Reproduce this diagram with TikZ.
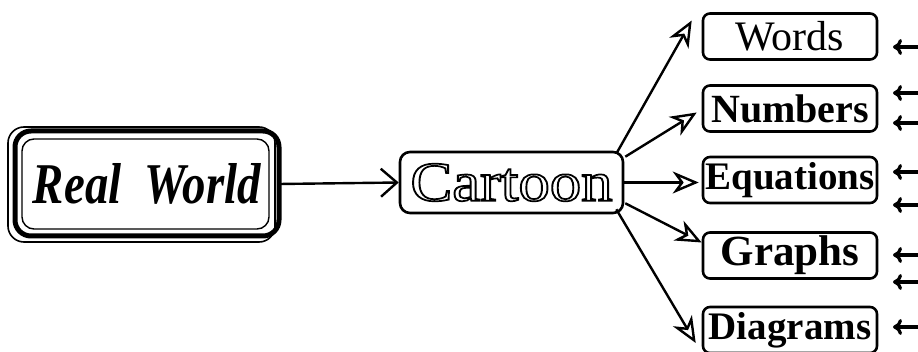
\documentclass[tikz,border=0pt]{standalone}
\usepackage{fontspec}
\setmainfont{Liberation Serif}
\usetikzlibrary{arrows.meta}
\newcommand{\hollow}[1]{\special{pdf:code q 1 Tr 1.7 w}#1\special{pdf:code Q}}

\tikzset{
  outbox/.style={draw, line width=2.6pt, rounded corners=7pt, minimum width=174pt,
    minimum height=46pt, inner sep=0pt},
  branch/.style={line width=2.4pt, -{Stealth[open, length=26pt, width=22pt, inset=8pt, line width=2.4pt]}},
  feed/.style={line width=3.2pt, -{Computer Modern Rightarrow[length=9pt, width=16pt, line width=3.2pt]}}
}

\begin{document}
\begin{tikzpicture}[x=1pt, y=-1pt]
  \useasboundingbox (0,0) rectangle (918,352);
  % real world frame
  \draw[line width=1.6pt, rounded corners=16pt] (8,127) rectangle (275,242);
  \draw[line width=5pt, rounded corners=16pt] (15,131) rectangle (279,236);
  \draw[line width=1.4pt, rounded corners=12pt] (22,139) rectangle (269,229);
  \node[inner sep=0pt, minimum width=264pt, minimum height=105pt] (real) at (147,184)
    {\resizebox{228pt}{40pt}{\bfseries\itshape Real\enspace World}};
  \node[draw, line width=2.6pt, rounded corners=10pt, minimum width=223pt, minimum height=61pt,
    inner sep=0pt] (cart) at (511.5,182.5)
    {\fontsize{56}{56}\selectfont\scalebox{1.12}[1]{\hollow{Cartoon}}};
  \draw[line width=2.4pt, -{Straight Barb[length=16pt, width=28pt, line width=2.4pt]}] (real.east) -- (cart.west);
  % output boxes
  \foreach \n/\t/\y in {words/{\fontsize{42}{42}\selectfont Words}/36.5,
                        num/{\fontsize{40}{40}\selectfont\bfseries Numbers}/108.5,
                        eq/{\fontsize{39}{39}\selectfont\bfseries Equations}/180,
                        graphs/{\fontsize{43}{43}\selectfont\bfseries Graphs}/255.5,
                        diag/{\fontsize{39}{39}\selectfont\bfseries Diagrams}/330}{
    \node[outbox] (\n) at (790,\y) {\t};
  }
  \draw[branch] ([shift={(-8,3)}]cart.north east) -- ([shift={(-10,-16)}]words.west);
  \draw[branch] ([shift={(1,6)}]cart.north east) -- ([shift={(-5,4)}]num.west);
  \draw[branch] (cart.east) -- ([xshift=-3pt]cart.east -| eq.west);
  \draw[branch] ([shift={(1,-11)}]cart.south east) -- ([shift={(0,-13)}]graphs.west);
  \draw[branch] ([shift={(-8,-5)}]cart.south east) -- ([shift={(-6,13)}]diag.west);
  % inputs from the right edge
  \foreach \i/\y in {1/47,2/93,3/123,4/172,5/205,6/255,7/282,8/327}{
    \coordinate (in\i) at (918,\y);
    \coordinate (tip\i) at (893,\y);
    \draw[feed] (in\i) -- (tip\i);
  }
\end{tikzpicture}
\end{document}
